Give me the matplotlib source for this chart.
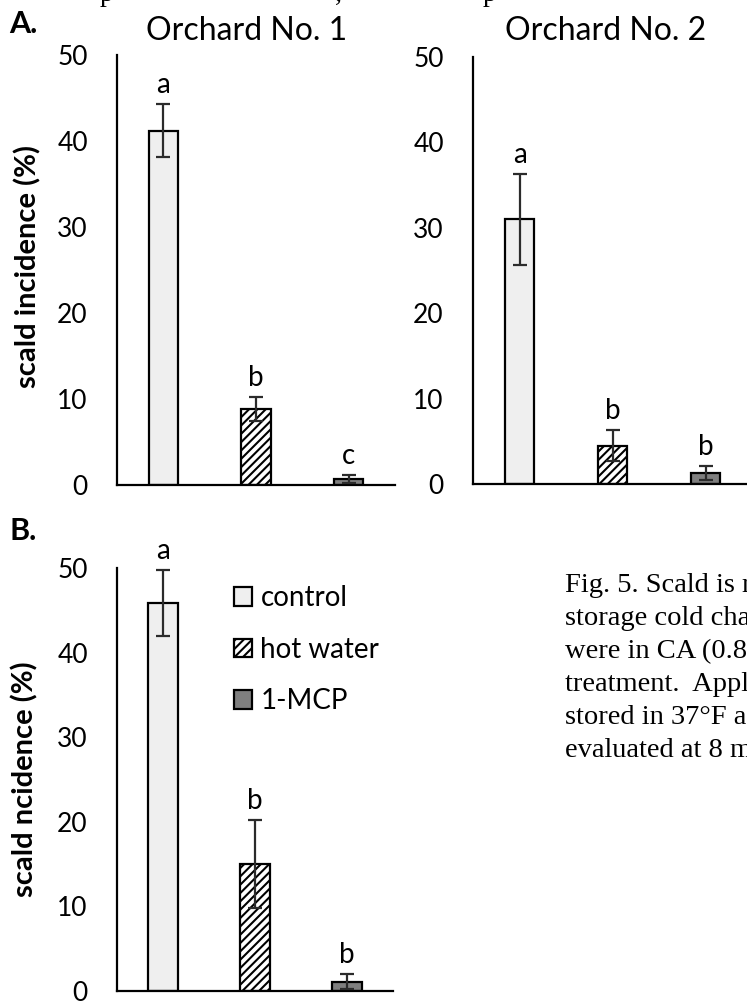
import matplotlib
matplotlib.use("Agg")
import matplotlib.pyplot as plt
import numpy as np

treatments = ["control", "hot water", "1-MCP"]
fills = ["#efefef", "white", "#7f7f7f"]
hatches = [None, "////", None]

orchard1_mean = [41.2, 8.8, 0.7]
orchard1_err = [3.1, 1.4, 0.5]
orchard1_letters = ["a", "b", "c"]

orchard2_mean = [31.0, 4.5, 1.3]
orchard2_err = [5.3, 1.8, 0.8]
orchard2_letters = ["a", "b", "b"]

combined_mean = [45.9, 15.0, 1.1]
combined_err = [3.9, 5.2, 0.9]
combined_letters = ["a", "b", "b"]

yticks = [0, 10, 20, 30, 40, 50]

# caption is cut off by the right edge in the original
caption_lines = [
    "Fig. 5. Scald is r",
    "storage cold cha",
    "were in CA (0.8",
    "treatment.  Appl",
    "stored in 37\u00b0F a",
    "evaluated at 8 m",
]

plt.rcParams["font.family"] = ["Lato", "DejaVu Sans"]
plt.rcParams["hatch.linewidth"] = 1.5

W, H = 747, 1005


def fx(px):
    return px / W


def fy(py):
    return 1 - py / H


def draw_panel(ax, means, errs, letters):
    x = np.arange(len(treatments))
    for i in range(len(treatments)):
        ax.bar(x[i], means[i], width=0.32, color=fills[i], edgecolor="black",
               linewidth=1.6, hatch=hatches[i], label=treatments[i], zorder=2)
    ax.errorbar(x, means, yerr=errs, fmt="none", ecolor="#2b2b2b", elinewidth=1.6,
                capsize=5, capthick=1.6, zorder=3)
    for i in range(len(treatments)):
        ax.text(x[i], means[i] + errs[i] + 1.3, letters[i], ha="center",
                va="baseline", fontsize=20)
    ax.set_xlim(-0.5, 2.5)
    ax.set_ylim(0, 50)
    ax.set_yticks(yticks)
    ax.set_xticks([])
    for s in ["top", "right"]:
        ax.spines[s].set_visible(False)
    for s in ["left", "bottom"]:
        ax.spines[s].set_linewidth(1.6)
    ax.tick_params(axis="y", length=0, pad=21, labelsize=19)


fig = plt.figure(figsize=(W / 100, H / 100), dpi=100)

ax1 = fig.add_axes([fx(117), fy(485), 278 / W, 430 / H])
ax2 = fig.add_axes([fx(473), fy(484), 279 / W, 427 / H])
ax3 = fig.add_axes([fx(117), fy(991), 276 / W, 423 / H])

draw_panel(ax1, orchard1_mean, orchard1_err, orchard1_letters)
draw_panel(ax2, orchard2_mean, orchard2_err, orchard2_letters)
draw_panel(ax3, combined_mean, combined_err, combined_letters)

ax1.set_ylabel("scald incidence (%)", fontsize=21, fontweight="bold")
ax1.yaxis.set_label_coords(-0.27, 0.507)
ax3.set_ylabel("scald ncidence (%)", fontsize=21, fontweight="bold")
ax3.yaxis.set_label_coords(-0.286, 0.5)

ax3.legend(loc="upper left", bbox_to_anchor=(fx(234), fy(585)),
           bbox_transform=fig.transFigure, frameon=False, fontsize=20,
           handlelength=0.65, handleheight=0.65, handletextpad=0.3,
           labelspacing=0.92, borderpad=0, borderaxespad=0)

fig.text(fx(247), fy(40), "Orchard No. 1", ha="center", va="baseline", fontsize=23)
fig.text(fx(606), fy(40), "Orchard No. 2", ha="center", va="baseline", fontsize=23)
fig.text(fx(9), fy(33), "A.", ha="left", va="baseline", fontsize=22, fontweight="bold")
fig.text(fx(10), fy(540), "B.", ha="left", va="baseline", fontsize=22, fontweight="bold")

for k, line in enumerate(caption_lines):
    fig.text(fx(565), fy(592 + 33 * k), line, ha="left", va="baseline",
             fontsize=20.5, family="Liberation Serif")

# descenders of the cut-off line above the figure
for px, ch in [(100, "p"), (335, ","), (483, "p")]:
    fig.text(fx(px), fy(1), ch, ha="left", va="baseline", fontsize=20,
             family="Liberation Serif")

fig.savefig("out.png", dpi=100)
